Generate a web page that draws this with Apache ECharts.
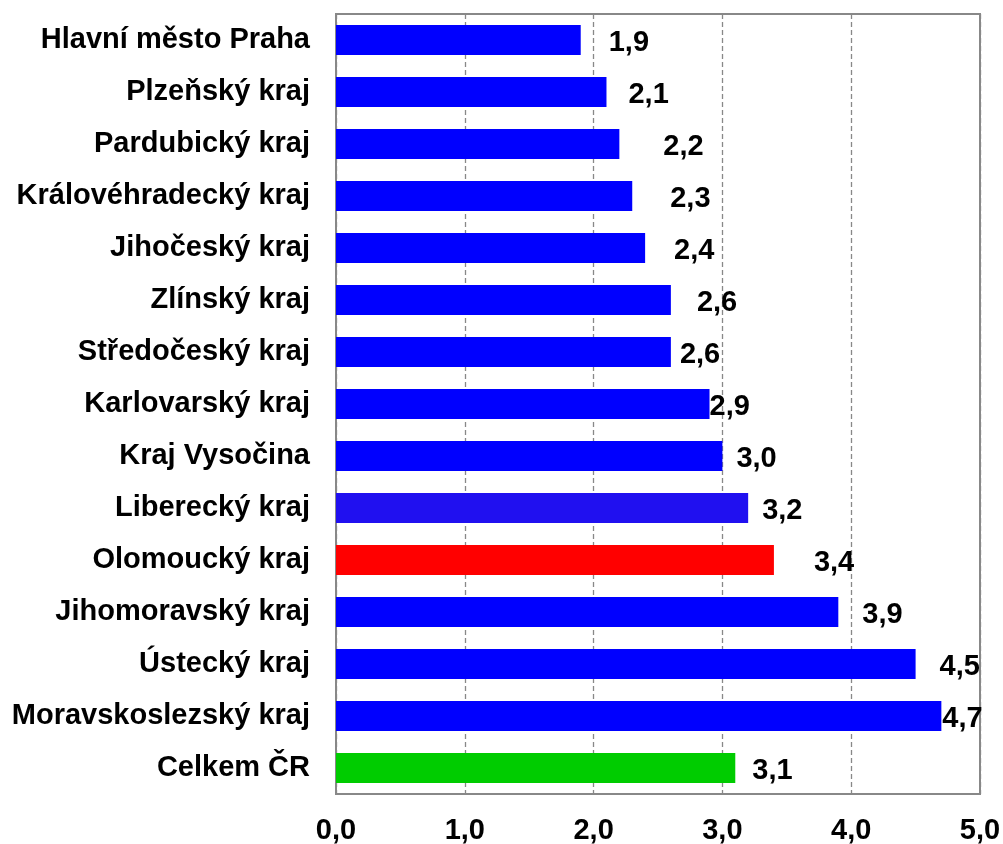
<!DOCTYPE html>
<html>
<head>
<meta charset="utf-8">
<script src="https://cdn.jsdelivr.net/npm/echarts@6/dist/echarts.min.js"></script>
<style>html,body{margin:0;padding:0;background:#fff}#c{width:1003px;height:844px}</style>
</head>
<body>
<div id="c"></div>
<script>
const categories = ["Hlavní město Praha","Plzeňský kraj","Pardubický kraj","Královéhradecký kraj","Jihočeský kraj","Zlínský kraj","Středočeský kraj","Karlovarský kraj","Kraj Vysočina","Liberecký kraj","Olomoucký kraj","Jihomoravský kraj","Ústecký kraj","Moravskoslezský kraj","Celkem ČR"];
const values = [1.9,2.1,2.2,2.3,2.4,2.6,2.6,2.9,3.0,3.2,3.4,3.9,4.5,4.7,3.1];
const xTicks = ["0,0","1,0","2,0","3,0","4,0","5,0"];
// styling (not data)
const barColors = ["#0000FF","#0000FF","#0000FF","#0000FF","#0000FF","#0000FF","#0000FF","#0000FF","#0000FF","#2010F0","#FF0000","#0000FF","#0000FF","#0000FF","#00CC00"];
const labelGaps = [28,22,44,38,29,26,9,0,14,14,40,24,24,1,17];

const font = '"Liberation Sans", Arial, sans-serif';
const chart = echarts.init(document.getElementById('c'), null, {renderer:'canvas'});
chart.setOption({
  animation:false,
  backgroundColor:'#fff',
  grid:{left:336,right:23,top:14,bottom:50,containLabel:false,outerBoundsMode:'none',show:true,borderColor:'#888',borderWidth:2,backgroundColor:'transparent'},
  xAxis:{
    type:'value',min:0,max:5,interval:1,
    axisLine:{show:true,lineStyle:{color:'#888',width:2}},
    axisTick:{show:false},
    splitLine:{show:true,lineStyle:{color:'#888',type:[5,3],width:1.3}},
    axisLabel:{margin:22,fontFamily:font,fontWeight:'bold',fontSize:29,color:'#000',
      formatter:(v)=>xTicks[Math.round(v)]}
  },
  yAxis:{
    type:'category',data:categories,inverse:true,
    axisLine:{show:true,lineStyle:{color:'#888',width:2}},
    axisTick:{show:false},
    axisLabel:{margin:26,fontFamily:font,fontWeight:'bold',fontSize:29,color:'#000'}
  },
  series:[{
    type:'bar',
    barWidth:30,
    data:values.map((v,i)=>({
      value:v,
      itemStyle:{color:barColors[i]},
      label:{distance:labelGaps[i]}
    })),
    label:{show:true,position:'right',offset:[0,3],fontFamily:font,fontWeight:'bold',fontSize:29,color:'#000',
      formatter:(p)=>p.value.toFixed(1).replace('.',',')}
  }]
});
</script>
</body>
</html>
